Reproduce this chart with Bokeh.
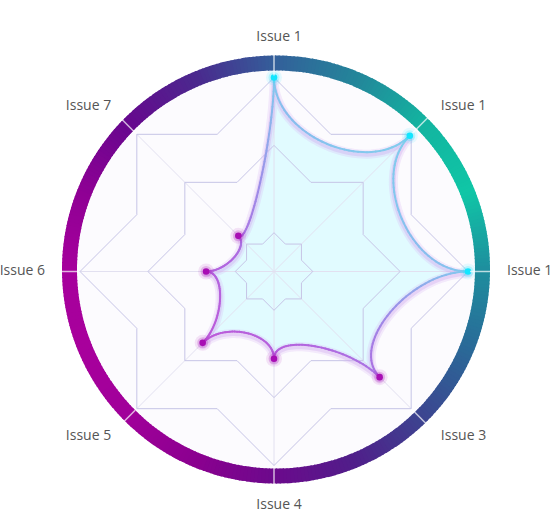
import math
import numpy as np
from bokeh.plotting import figure
from bokeh.models import ColumnDataSource, Range1d
from bokeh.embed import file_html
from bokeh.resources import INLINE
from bokeh.core.properties import value

# ---------------- data ----------------
categories = ["Issue 1", "Issue 1", "Issue 1", "Issue 3", "Issue 4", "Issue 5", "Issue 6", "Issue 7"]
values = [100, 99, 100, 77, 45, 52, 35, 26]
grid_levels = [20, 65, 100]
max_value = 100

# ---------------- layout / style ----------------
W, H = 554, 529
CX, CY = 273.5, H - 271          # grid centre (data coords, y up)
RCX, RCY = 275.5, H - 269        # ring centre
R = 194.0                        # radius of max value
RING_IN, RING_OUT = 199.0, 214.0
K = 0.70                         # inward pull of spline control points
STAR_INNER = math.cos(math.pi / 4) / math.cos(math.pi / 8)

n = len(categories)
angles = [math.radians(90 - 360.0 / n * i) for i in range(n)]


def hex2rgb(h):
    h = h.lstrip("#")
    return tuple(int(h[i:i + 2], 16) for i in (0, 2, 4))


def rgb2hex(c):
    return "#%02x%02x%02x" % tuple(int(round(max(0, min(255, v)))) for v in c)


def interp_stops(stops, x):
    if x <= stops[0][0]:
        return stops[0][1]
    for (a, ca), (b, cb) in zip(stops[:-1], stops[1:]):
        if a <= x <= b:
            f = (x - a) / (b - a) if b > a else 0
            A, B = hex2rgb(ca), hex2rgb(cb)
            return rgb2hex([A[j] + (B[j] - A[j]) * f for j in range(3)])
    return stops[-1][1]


ring_stops = [(-180, "#a6009c"), (-158, "#a8009c"), (-135, "#a0009a"), (-112, "#8a008f"),
              (-90, "#6b0a8c"), (-68, "#501e8a"), (-45, "#3c4590"), (-22, "#2a6a98"),
              (0, "#1e8e9e"), (22, "#10c6a6"), (45, "#13b4a0"), (67, "#23869a"),
              (90, "#33609a"), (112, "#4a2a8e"), (135, "#66088e"), (158, "#8e0094"),
              (180, "#a6009c")]
line_stops = [(-200, "#c452d4"), (-100, "#bd58d8"), (-20, "#b068e0"), (60, "#9a92e8"),
              (130, "#84c6ee"), (220, "#7fd2ec")]

p = figure(width=W, height=H, x_range=Range1d(0, W), y_range=Range1d(0, H),
           output_backend="svg", toolbar_location=None, min_border=0,
           x_axis_location=None, y_axis_location=None)
p.grid.visible = False
p.outline_line_color = None
p.background_fill_color = "white"
p.border_fill_color = "white"

# inner background
p.circle(x=[RCX], y=[RCY], radius=RING_IN, fill_color="#fcfbfe", line_color=None)

# data points
def r_of(v):
    return v / max_value * R

pts = [(CX + r_of(v) * math.cos(a), CY + r_of(v) * math.sin(a)) for v, a in zip(values, angles)]

# spline curve (cubic bezier, control points pulled toward centre)
cx_all, cy_all = [], []
for i in range(n):
    P0 = np.array(pts[i]); P3 = np.array(pts[(i + 1) % n])
    C = np.array([CX, CY])
    C1 = C + K * (P0 - C); C2 = C + K * (P3 - C)
    t = np.linspace(0, 1, 41)[:, None]
    B = (1 - t) ** 3 * P0 + 3 * (1 - t) ** 2 * t * C1 + 3 * (1 - t) * t ** 2 * C2 + t ** 3 * P3
    if i > 0:
        B = B[1:]
    cx_all.extend(B[:, 0].tolist()); cy_all.extend(B[:, 1].tolist())

# fill
p.patch(cx_all, cy_all, fill_color="#dcfaff", fill_alpha=0.85, line_color=None)

# spokes
for a in angles:
    p.line([CX, CX + R * math.cos(a)], [CY, CY + R * math.sin(a)],
           line_color="#e2e0f0", line_width=1)

# star grid
for lv in grid_levels:
    rr = r_of(lv)
    xs, ys = [], []
    for j in range(2 * n + 1):
        a = math.radians(90 - 360.0 / (2 * n) * j)
        r2 = rr if j % 2 == 0 else rr * STAR_INNER
        xs.append(CX + r2 * math.cos(a)); ys.append(CY + r2 * math.sin(a))
    p.line(xs, ys, line_color="#c6c4e6", line_width=1)

# glow of the line
gx = cx_all + [cx_all[0]]
gy = [y - 2 for y in cy_all] + [cy_all[0] - 2]
p.line(gx, gy, line_color="#d6b4f2", line_width=9, line_alpha=0.25, line_join="round")
p.line(gx, gy, line_color="#cfa8ee", line_width=5, line_alpha=0.35, line_join="round")

# gradient line
x0, y0, x1, y1, cols = [], [], [], [], []
m = len(cx_all)
for i in range(m):
    a0, b0 = cx_all[i], cy_all[i]
    a1, b1 = cx_all[(i + 1) % m], cy_all[(i + 1) % m]
    pr = ((a0 + a1) / 2 - CX + (b0 + b1) / 2 - CY) / math.sqrt(2)
    x0.append(a0); y0.append(b0); x1.append(a1); y1.append(b1)
    cols.append(interp_stops(line_stops, pr))
p.segment(x0=x0, y0=y0, x1=x1, y1=y1, line_color=cols, line_width=2, line_cap="round")

# markers
mcols = []
for (x, y) in pts:
    pr = (x - CX + y - CY) / math.sqrt(2)
    mcols.append("#12e6ff" if pr > 60 else "#a80eb4")
msrc = ColumnDataSource(dict(x=[q[0] for q in pts], y=[q[1] for q in pts], c=mcols))
p.circle("x", "y", radius=8, fill_color="c", fill_alpha=0.10, line_color=None, source=msrc)
p.circle("x", "y", radius=5.5, fill_color="c", fill_alpha=0.22, line_color=None, source=msrc)
p.circle("x", "y", radius=3.3, fill_color="c", line_color=None, source=msrc)

# gradient ring
starts, ends, rcols = [], [], []
steps = 360
for s in range(steps):
    a = -180 + 360.0 * s / steps
    starts.append(math.radians(a)); ends.append(math.radians(a + 1.3))
    rcols.append(interp_stops(ring_stops, a + 0.5))
p.annular_wedge(x=RCX, y=RCY, inner_radius=RING_IN, outer_radius=RING_OUT,
                start_angle=starts, end_angle=ends, fill_color=rcols, line_color=None,
                direction="anticlock")

# separators in the ring
for a in angles:
    p.line([CX + 196 * math.cos(a), CX + 217 * math.cos(a)],
           [CY + 196 * math.sin(a), CY + 217 * math.sin(a)],
           line_color="#ffffff", line_alpha=0.7, line_width=1.5)

# labels
lx, ly, la = [], [], []
for a in angles:
    c, s = math.cos(a), math.sin(a)
    rl = 231 + 3 * abs(s)
    x = RCX + rl * c
    y = RCY + rl * s
    if c > 0.3:
        al = "left"
    elif c < -0.3:
        al = "right"
    else:
        al = "center"; x += 3
    lx.append(x); ly.append(y); la.append(al)
lsrc = ColumnDataSource(dict(x=lx, y=ly, t=categories, al=la))
p.text("x", "y", text="t", text_align="al", text_baseline="middle", source=lsrc,
       text_font=value("Open Sans"), text_font_size="14px", text_color="#555555")

open("out.html", "w").write(file_html(p, INLINE))
